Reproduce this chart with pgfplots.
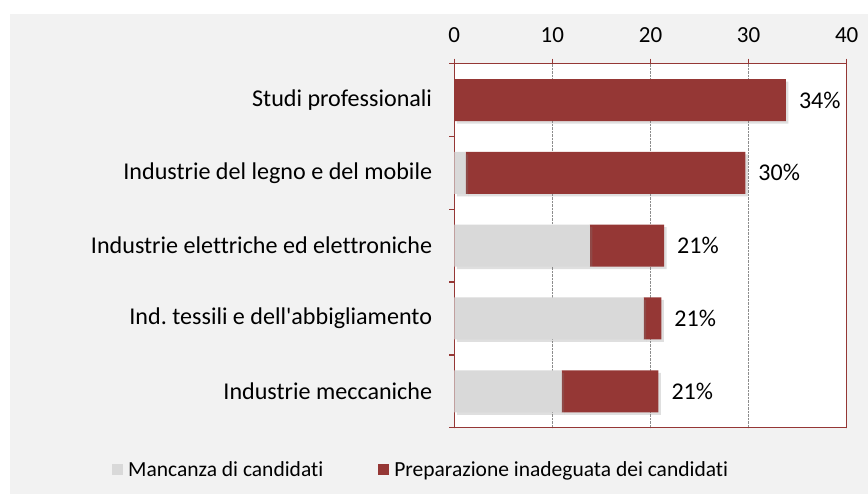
\documentclass[border=0pt]{standalone}
\usepackage{pgfplots}
\pgfplotsset{compat=1.18}
\usepackage{pgfplotstable}
\usepackage{fontspec}
\setmainfont{Carlito}[Ligatures={CommonOff,TeXOff}]
\usetikzlibrary{shadows}
\definecolor{barred}{HTML}{953735}
\definecolor{bargray}{HTML}{D9D9D9}
\definecolor{bg}{HTML}{F2F2F2}
\pgfplotstableread{
pos gray red zero lab
0 0    33.8 0 34
1 1.16 28.5 0 30
2 13.83 7.55 0 21
3 19.3 1.8 0 21
4 10.95 9.85 0 21
}\datatab
\begin{document}
\begin{tikzpicture}[x=1pt,y=1pt]
\path[use as bounding box] (0,0) rectangle (868,494);
\fill[bg] (10,0) rectangle (868,480);
\begin{axis}[
  at={(454.3pt,66.3pt)}, anchor=south west,
  width=392.4pt, height=364pt, scale only axis,
  xbar stacked, bar width=42pt,
  xmin=0, xmax=40, ymin=-0.5, ymax=4.5, y dir=reverse,
  axis background/.style={fill=white},
  axis line style={barred, line width=1.5pt},
  xtick={0,10,20,30,40}, xtick pos=right, xticklabel pos=right,
  tick align=outside, major tick length=5pt,
  tick style={barred, line width=1.5pt},
  /pgf/number format/assume math mode=true,
  xmajorgrids, grid style={densely dotted, black!45, line width=1.2pt},
  ytick={-0.5,0.5,...,4.5}, yticklabels={}, ytick pos=left,
  extra y ticks={0,1,2,3,4},
  extra y tick labels={Studi professionali,Industrie del legno e del mobile,Industrie elettriche ed elettroniche,{Ind.\ tessili e dell'abbigliamento},Industrie meccaniche},
  extra y tick style={major tick length=0pt, yticklabel style={inner sep=0pt, xshift=-22pt, font=\fontsize{24.1}{28}\selectfont}},
  xticklabel style={font=\fontsize{23}{28}\selectfont, inner sep=0pt, yshift=16pt},
  legend style={at={(-0.880,-0.116)}, anchor=west, legend columns=2, draw=none, fill=none,
    font=\fontsize{21.5}{24}\selectfont, nodes={inner sep=0pt},
    /tikz/every even column/.append style={column sep=55pt}},
  legend image code/.code={\fill[#1] (0pt,-5.5pt) rectangle (11pt,5.5pt);},
]
\addplot[fill=bargray, draw=none, forget plot, drop shadow={shadow xshift=2.5pt, shadow yshift=-2.5pt, opacity=0.25}] table[x=gray, y=pos] {\datatab};
\addplot[fill=barred, draw=none, forget plot, drop shadow={shadow xshift=2.5pt, shadow yshift=-2.5pt, opacity=0.25}]
  table[x=red, y=pos] {\datatab};
\addplot[draw=none, fill=none, forget plot, stacked ignores zero=false,
  point meta=explicit symbolic, nodes near coords={\pgfplotspointmeta\%},
  nodes near coords style={anchor=west, inner sep=0pt, xshift=13pt, font=\fontsize{24}{28}\selectfont, black}]
  table[x=zero, y=pos, meta=lab] {\datatab};
\addlegendimage{fill=bargray, draw=none}
\addlegendentry{\hspace{5pt}Mancanza di candidati}
\addlegendimage{fill=barred, draw=none}
\addlegendentry{\hspace{5pt}Preparazione inadeguata dei candidati}
\end{axis}
\end{tikzpicture}
\end{document}
